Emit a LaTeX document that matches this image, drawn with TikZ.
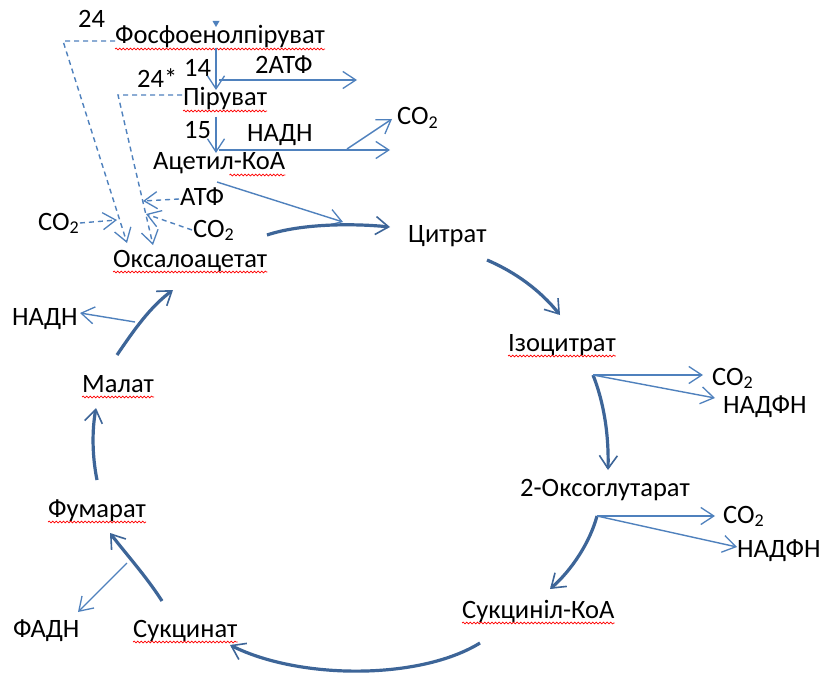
\documentclass[tikz,border=0pt]{standalone}
\usepackage{fontspec}
\setmainfont{Carlito}
\usetikzlibrary{arrows.meta,calc,decorations.pathmorphing}
\definecolor{thinblue}{HTML}{4F81BD}
\definecolor{thickblue}{HTML}{3D6598}
\newcommand{\cotwo}{CO\raisebox{-0.12em}{\fontsize{18}{18}\selectfont 2}}
\tikzset{
  lbl/.style={inner sep=0pt, anchor=base west, font=\fontsize{26.5}{30}\selectfont},
  barb/.style={-{Straight Barb[length=13pt,width=17pt,line width=1.3pt]}},
  thinarr/.style={draw=thinblue, line width=1.4pt, barb},
  thickarr/.style={draw=thickblue, line width=3.2pt, -{Straight Barb[length=13pt,width=18pt,line width=1.6pt]}},
  dashline/.style={draw=thinblue, line width=1.4pt, dash pattern=on 5pt off 4pt},
  spell/.style={draw=red, line width=0.7pt, decorate,
    decoration={snake, amplitude=0.9pt, segment length=3.6pt}}
}
\begin{document}
\begin{tikzpicture}[x=1pt,y=-1pt]
\useasboundingbox[fill=white] (0,0) rectangle (820,674);

% ---------- labels ----------
\node[lbl] (n24)   at (78,28)  {24};
\node[lbl] (pep)   at (115,44) {Фосфоенолпіруват};
\node[lbl] (n14)   at (184,77) {14};
\node[lbl] (atp2)  at (255,74) {2АТФ};
\node[lbl] (n24s)  at (137,88) {24*};
\node[lbl] (pyr)   at (183,106) {Піруват};
\node[lbl] (n15)   at (184,139) {15};
\node[lbl] (nadh1) at (247,142) {НАДН};
\node[lbl] (co2a)  at (397,125) {\cotwo};
\node[lbl] (acoa)  at (153,170) {Ацетил-КоА};
\node[lbl] (atp)   at (180,205) {АТФ};
\node[lbl] (co2l)  at (38,230)  {\cotwo};
\node[lbl] (co2m)  at (193,237) {\cotwo};
\node[lbl] (oaa)   at (113,267) {Оксалоацетат};
\node[lbl] (cit)   at (408,242) {Цитрат};
\node[lbl] (icit)  at (508,351) {Ізоцитрат};
\node[lbl] (co2b)  at (712,385) {\cotwo};
\node[lbl] (nadph1) at (723,413) {НАДФН};
\node[lbl] (oxo)   at (520,496) {2-Оксоглутарат};
\node[lbl] (co2c)  at (723,523) {\cotwo};
\node[lbl] (nadph2) at (737,557) {НАДФН};
\node[lbl] (scoa)  at (462,618) {Сукциніл-КоА};
\node[lbl] (nadh2) at (12,325)  {НАДН};
\node[lbl] (mal)   at (82,392)  {Малат};
\node[lbl] (fum)   at (48,517)  {Фумарат};
\node[lbl] (fadh)  at (13,637)  {ФАДН};
\node[lbl] (succ)  at (133,637) {Сукцинат};

% ---------- spell-check underlines ----------
\foreach \n in {pep,pyr,oaa,icit,mal,fum,succ,scoa}
  \draw[spell] ($(\n.base west)+(0,5)$) -- ($(\n.base east)+(0,5)$);
\draw[spell] ($(acoa.base east)+(-56,5)$) -- ($(acoa.base east)+(0,5)$);

% ---------- connector end points ----------
\coordinate (topTip) at (216,27);
\coordinate (pepOut) at (216,48);   \coordinate (pyrIn)  at (216,90);
\coordinate (atpS)   at (219,80);   \coordinate (atpE)   at (357,80);
\coordinate (pyrOut) at (216,117);  \coordinate (acoaIn) at (216,153);
\coordinate (nadhS)  at (219,150);  \coordinate (nadhE)  at (390,150);
\coordinate (co2S)   at (347,149);  \coordinate (co2E)   at (392,119);
\coordinate (acoaOut) at (217,182); \coordinate (citIn1) at (343,222);
\coordinate (oaaOut) at (267,235);  \coordinate (citIn2) at (390,227);
\coordinate (citOut) at (487,260);  \coordinate (icitIn) at (560,315);
\coordinate (icitOut) at (593,375); \coordinate (oxoIn)  at (608,470);
\coordinate (co2bE)  at (703,375);  \coordinate (nadph1E) at (715,398);
\coordinate (oxoOut) at (597,516);  \coordinate (scoaIn) at (550,589);
\coordinate (co2cE)  at (715,516);  \coordinate (nadph2E) at (737,547);
\coordinate (scoaOut) at (480,643); \coordinate (succIn) at (230,645);
\coordinate (succOut) at (162,601); \coordinate (fumIn)  at (110,533);
\coordinate (fadhS)  at (127,563);  \coordinate (fadhE)  at (78,612);
\coordinate (fumOut) at (97,480);   \coordinate (malIn)  at (96,408);
\coordinate (malOut) at (117,355);  \coordinate (oaaIn)  at (173,290);
\coordinate (nadhS2) at (135,322);  \coordinate (nadhE2) at (80,313);
\coordinate (d24S)   at (115,41);   \coordinate (d24C)   at (63,41);   \coordinate (d24E) at (127,243);
\coordinate (d24sS)  at (182,95);   \coordinate (d24sC)  at (118,95);  \coordinate (d24sE) at (153,245);
\coordinate (dco2lE) at (117,220);
\coordinate (datpE)  at (143,201);
\coordinate (dco2mE) at (146,214);

% ---------- glycolysis / pyruvate dehydrogenase ----------
\fill[thinblue] ($(topTip)+(-3.5,-6)$) -- ($(topTip)+(3.5,-6)$) -- (topTip) -- cycle;
\draw[thinarr] (pepOut) -- (pyrIn);
\draw[thinarr] (atpS) -- (atpE);
\draw[thinarr] (pyrOut) -- (acoaIn);
\draw[thinarr] (nadhS) -- (nadhE);
\draw[thinarr] (co2S) -- (co2E);
\draw[thinarr] (acoaOut) -- (citIn1);

% ---------- anaplerotic (dashed) ----------
\draw[dashline, barb] (d24S) -- (d24C) -- (d24E);
\draw[dashline, barb] (d24sS) -- (d24sC) -- (d24sE);
\draw[dashline, barb] ($(co2l.base east)+(1,-7)$) -- (dco2lE);
\draw[dashline, barb] ($(atp.base west)+(-1,-6)$) -- (datpE);
\draw[dashline, barb] ($(co2m.base west)+(-1,-7)$) -- (dco2mE);

% ---------- citric acid cycle ----------
\draw[thickarr] (oaaOut) .. controls (300,224) and (350,223) .. (citIn2);
\draw[thickarr] (citOut) .. controls (515,272) and (540,290) .. (icitIn);
\draw[thickarr] (icitOut) .. controls (603,400) and (609,432) .. (oxoIn);
\draw[thinarr] (icitOut) -- (co2bE);
\draw[thinarr] (icitOut) -- (nadph1E);
\draw[thickarr] (oxoOut) .. controls (590,542) and (572,570) .. (scoaIn);
\draw[thinarr] (oxoOut) -- (co2cE);
\draw[thinarr] (oxoOut) -- (nadph2E);
\draw[thickarr] (scoaOut) .. controls (420,680) and (300,680) .. (succIn);
\draw[thickarr] (succOut) .. controls (146,576) and (126,554) .. (fumIn);
\draw[thinarr] (fadhS) -- (fadhE);
\draw[thickarr] (fumOut) .. controls (92,455) and (92,430) .. (malIn);
\draw[thickarr] (malOut) .. controls (134,330) and (150,307) .. (oaaIn);
\draw[thinarr] (nadhS2) -- (nadhE2);
\end{tikzpicture}
\end{document}
